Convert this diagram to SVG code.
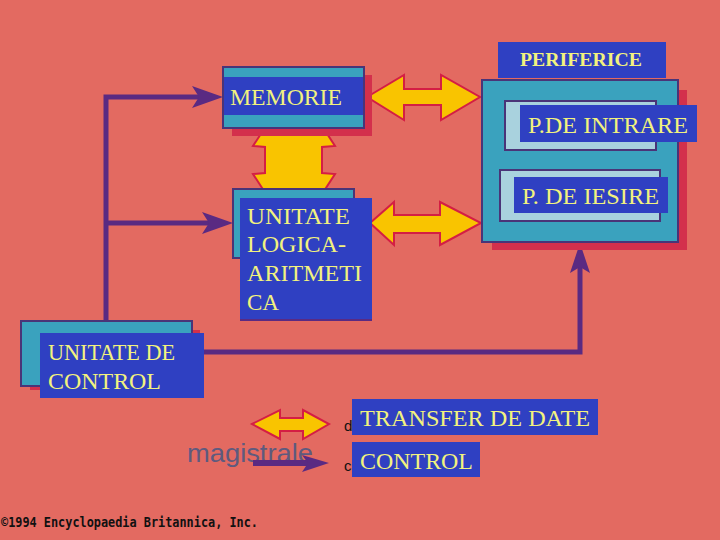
<svg xmlns="http://www.w3.org/2000/svg" width="720" height="540" viewBox="0 0 720 540">
<defs>
<style>
.bg{fill:#E36A61}
.teal{fill:#3AA2BE;stroke:#4A3478;stroke-width:2}
.blue{fill:#2F40C2}
.shadow{fill:#D3304C}
.light{fill:#A9D2DE;stroke:#4A3478;stroke-width:2}
.lbl{font-family:"Liberation Serif","Times New Roman",serif;font-size:23px;fill:#F2F27E}
.yarrow{fill:#F9C400;stroke:#D41E44;stroke-width:2;stroke-linejoin:miter}
.bus{fill:none;stroke:#5A2A82;stroke-width:5}
.head{fill:#5A2A82}
</style>
</defs>
<rect class="bg" x="0" y="0" width="720" height="540"/>

<g id="connectors">
<polygon class="yarrow" points="367,97 404,75 404,89 441,89 441,75 480,97 441,120 441,105 404,105 404,120"/>
<polygon class="yarrow" points="266,126 322,126 335,146 322,147 322,173 335,174 322,194 266,194 253,174 265,173 265,147 253,146"/>
<polygon class="yarrow" points="370,223 394,202 394,215 440,215 440,202 481,223 440,245 440,233 394,233 394,245"/>
<polyline class="bus" points="106,322 106,97 200,97"/>
<polygon class="head" points="223,97 192,86 199,97 192,108"/>
<polyline class="bus" points="106,223 210,223"/>
<polygon class="head" points="233,223 202,212 209,223 202,234"/>
<polyline class="bus" points="204,352 580,352 580,265"/>
<polygon class="head" points="580,243 570,273 580,267 590,273"/>
</g>

<g id="memorie">
<rect class="shadow" x="232" y="75" width="140" height="61"/>
<rect class="teal" x="223" y="67" width="141" height="61"/>
<rect class="blue" x="224" y="77" width="139" height="38"/>
<text class="lbl" x="230" y="105" textLength="112" lengthAdjust="spacingAndGlyphs">MEMORIE</text>
</g>

<g id="alu">
<rect class="teal" x="233" y="189" width="121" height="69"/>
<rect class="blue" x="240" y="198" width="132" height="122"/>
<line x1="240" y1="320" x2="372" y2="320" stroke="#5A2A82" stroke-width="2"/>
<text class="lbl" x="247" y="224" textLength="103" lengthAdjust="spacingAndGlyphs">UNITATE</text>
<text class="lbl" x="247" y="252" textLength="99" lengthAdjust="spacingAndGlyphs">LOGICA-</text>
<text class="lbl" x="247" y="281" textLength="115" lengthAdjust="spacingAndGlyphs">ARITMETI</text>
<text class="lbl" x="247" y="310" textLength="32" lengthAdjust="spacingAndGlyphs">CA</text>
</g>

<g id="periferice">
<rect class="blue" x="498" y="42" width="168" height="36"/>
<text x="520" y="66" font-family="Liberation Serif, Times New Roman, serif" font-size="18" font-weight="bold" fill="#F2F27E" textLength="122" lengthAdjust="spacingAndGlyphs">PERIFERICE</text>
<rect class="shadow" x="492" y="90" width="195" height="160"/>
<rect class="teal" x="482" y="80" width="196" height="162"/>
</g>

<g id="p-intrare">
<rect class="light" x="505" y="101" width="151" height="49"/>
<rect class="blue" x="520" y="105" width="177" height="37"/>
<text class="lbl" x="528" y="133" textLength="160" lengthAdjust="spacingAndGlyphs">P.DE INTRARE</text>
</g>

<g id="p-iesire">
<rect class="light" x="500" y="170" width="160" height="51"/>
<rect class="blue" x="514" y="177" width="154" height="36"/>
<text class="lbl" x="522" y="204" textLength="137" lengthAdjust="spacingAndGlyphs">P. DE IESIRE</text>
</g>

<g id="control">
<rect class="shadow" x="30" y="330" width="170" height="60"/>
<rect class="teal" x="21" y="321" width="171" height="65"/>
<rect class="blue" x="40" y="333" width="164" height="65"/>
<text class="lbl" x="48" y="360" textLength="127" lengthAdjust="spacingAndGlyphs">UNITATE DE</text>
<text class="lbl" x="48" y="389" textLength="113" lengthAdjust="spacingAndGlyphs">CONTROL</text>
</g>

<g id="legend">
<polygon class="yarrow" points="252,424 280,410 280,418 303,418 303,410 329,424 303,439 303,431 280,431 280,439"/>
<text x="187" y="462" font-family="Liberation Sans, Arial, sans-serif" font-size="25" fill="#5E5A7E" textLength="126" lengthAdjust="spacingAndGlyphs">magistrale</text>
<line x1="253" y1="463" x2="310" y2="463" stroke="#5A2A82" stroke-width="6"/>
<polygon class="head" points="329,463 302,455 308,463 302,472"/>
<text x="344" y="431" font-family="Liberation Sans, Arial, sans-serif" font-size="15" fill="#111">d</text>
<text x="344" y="471" font-family="Liberation Sans, Arial, sans-serif" font-size="15" fill="#111">c</text>
<rect class="blue" x="352" y="399" width="246" height="36"/>
<text class="lbl" x="360" y="426" textLength="230" lengthAdjust="spacingAndGlyphs">TRANSFER DE DATE</text>
<rect class="blue" x="352" y="442" width="128" height="35"/>
<text class="lbl" x="360" y="469" textLength="113" lengthAdjust="spacingAndGlyphs">CONTROL</text>
</g>

<text x="1" y="527" font-family="DejaVu Sans Mono, Liberation Mono, monospace" font-size="14" font-weight="bold" fill="#111" textLength="257" lengthAdjust="spacingAndGlyphs">©1994 Encyclopaedia Britannica, Inc.</text>
</svg>
